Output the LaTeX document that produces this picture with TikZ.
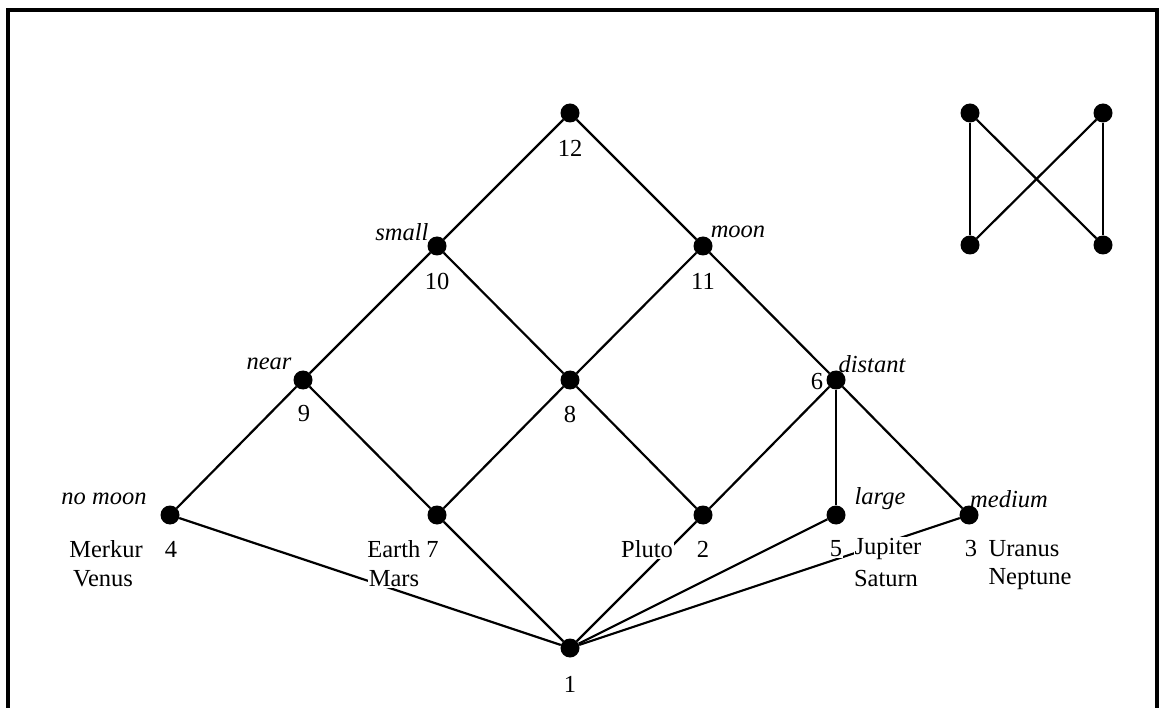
\documentclass[tikz,border=0pt]{standalone}
\usepackage{fontspec}
\setmainfont{Liberation Serif}
\begin{document}
\begin{tikzpicture}[x=1pt,y=-1pt,
  dot/.style={circle,fill=black,inner sep=0pt,minimum size=19pt},
  edge/.style={line width=2.2pt},
  lbl/.style={font=\fontsize{24.5}{28}\selectfont,inner sep=1pt,fill=white},
  attr/.style={font=\fontsize{24.5}{28}\selectfont\itshape,inner sep=1pt}]
\useasboundingbox (0,0) rectangle (1159,708);
\draw[line width=3.5pt] (8,708) -- (8,10) -- (1157,10) -- (1157,708);
% lattice nodes
\node[dot] (n12) at (570,113) {};
\node[dot] (n10) at (437,246) {};
\node[dot] (n11) at (703,246) {};
\node[dot] (n9) at (303,380) {};
\node[dot] (n8) at (570,380) {};
\node[dot] (n6) at (836,380) {};
\node[dot] (n4) at (170,515) {};
\node[dot] (n7) at (437,515) {};
\node[dot] (n2) at (703,515) {};
\node[dot] (n5) at (836,515) {};
\node[dot] (n3) at (969,515) {};
\node[dot] (n1) at (570,648) {};
% small graph
\node[dot] (a) at (970,113) {};
\node[dot] (b) at (1103,113) {};
\node[dot] (c) at (970,245) {};
\node[dot] (d) at (1103,245) {};
% edges
\draw[edge] (n12) -- (n10);
\draw[edge] (n12) -- (n11);
\draw[edge] (n10) -- (n9);
\draw[edge] (n10) -- (n8);
\draw[edge] (n11) -- (n8);
\draw[edge] (n11) -- (n6);
\draw[edge] (n9) -- (n4);
\draw[edge] (n9) -- (n7);
\draw[edge] (n8) -- (n7);
\draw[edge] (n8) -- (n2);
\draw[edge] (n6) -- (n2);
\draw[edge] (n6) -- (n5);
\draw[edge] (n6) -- (n3);
\draw[edge] (n4) -- (n1);
\draw[edge] (n7) -- (n1);
\draw[edge] (n2) -- (n1);
\draw[edge] (n5) -- (n1);
\draw[edge] (n3) -- (n1);
\draw[edge] (a) -- (c);
\draw[edge] (b) -- (d);
\draw[edge] (a) -- (d);
\draw[edge] (b) -- (c);
% number labels
\node[lbl] (l12) at (570,148) {12};
\node[lbl] (l10) at (437,281) {10};
\node[lbl] (l11) at (703,281) {11};
\node[lbl] (l9) at (304,414) {9};
\node[lbl] (l8) at (570,414) {8};
\node[lbl] (l6) at (817,382) {6};
\node[lbl] (l1) at (570,684) {1};
% attribute labels
\node[attr] (tsmall) at (402,232) {small};
\node[attr] (tmoon) at (738,232) {moon};
\node[attr] (tnear) at (269,364) {near};
\node[attr] (tdistant) at (872,364) {distant};
\node[attr] (tnomoon) at (104,499) {no moon};
\node[attr] (tlarge) at (880,499) {large};
\node[attr] (tmedium) at (1009,499) {medium};
% object labels
\node[lbl] (tmerkur) at (106,549) {Merkur};
\node[lbl] (l4) at (171,549) {4};
\node[lbl] (tvenus) at (103,579) {Venus};
\node[lbl] (tearth) at (403,549) {Earth 7};
\node[lbl] (tmars) at (394,579) {Mars};
\node[lbl] (tpluto) at (647,549) {Pluto};
\node[lbl] (l2) at (703,549) {2};
\node[lbl] (l5) at (836,549) {5};
\node[lbl] (tjupiter) at (888,549) {Jupiter};
\node[lbl] (tsaturn) at (886,579) {Saturn};
\node[lbl] (l3) at (971,549) {3};
\node[lbl] (turanus) at (1024,549) {Uranus};
\node[lbl] (tneptune) at (1030,579) {Neptune};
\end{tikzpicture}
\end{document}
